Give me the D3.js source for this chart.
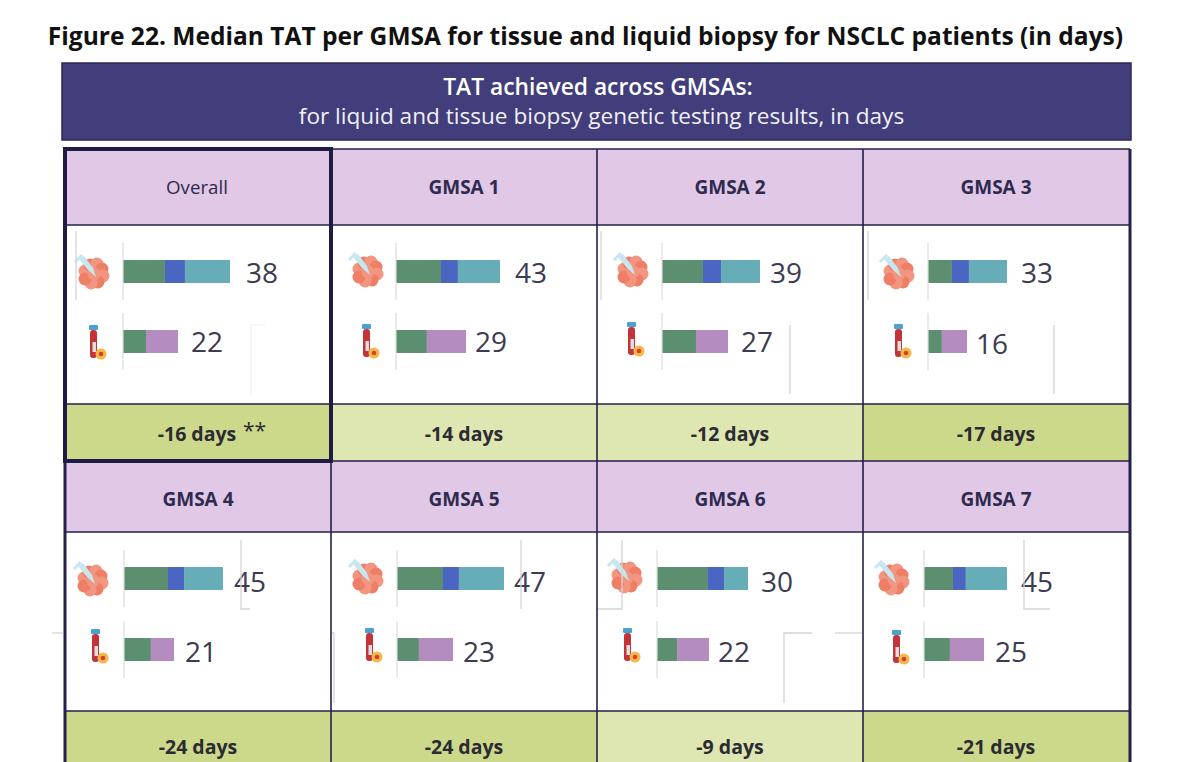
<!DOCTYPE html>
<html lang="en">
<head>
<meta charset="utf-8">
<title>Figure 22</title>
<style>
    body { margin: 0; background: #fff; }
    svg { display: block; }
    text { font-family: "Open Sans", "Noto Sans", sans-serif; }
</style>
<script src="https://cdnjs.cloudflare.com/ajax/libs/d3/7.8.5/d3.min.js"></script>
</head>
<body>
<svg id="chart" width="1200" height="762"></svg>
<script>
// data, in days
const panels = ["Overall", "GMSA 1", "GMSA 2", "GMSA 3", "GMSA 4", "GMSA 5", "GMSA 6", "GMSA 7"];
const tissueTotals = [38, 43, 39, 33, 45, 47, 30, 45];
const liquidTotals = [22, 29, 27, 16, 21, 23, 22, 25];
const tissueFirst = [14.9, 18.6, 16.3, 10.0, 20.0, 20.2, 16.8, 15.7];
const tissueSecond = [7.1, 7.0, 7.2, 7.1, 7.3, 7.0, 5.3, 7.0];
const tissueThird = [16.0, 17.4, 15.5, 15.9, 17.7, 19.8, 7.9, 22.3];
const liquidFirst = [9.2, 12.8, 13.9, 5.7, 11.3, 9.0, 8.5, 10.8];
const liquidSecond = [12.8, 16.2, 13.1, 10.3, 9.7, 14.0, 13.5, 14.2];
const diffLabels = ["-16 days", "-14 days", "-12 days", "-17 days", "-24 days", "-24 days", "-9 days", "-21 days"];
const diffStrong = [true, false, false, true, true, true, false, true];

// layout, per panel
const barX = [123, 396, 662, 928, 124, 397, 657, 924];
const tissueSpan = [107, 104, 98, 79, 99, 107, 91, 83];
const liquidSpan = [55, 70, 66, 39, 50, 56, 52, 60];
const tissueLabelX = [262, 531, 786, 1037, 250, 530, 777, 1037];
const liquidLabelX = [207, 491, 757, 992, 201, 479, 734, 1011];
const tissueIcon = [[93, 273], [367, 271], [632, 271], [898, 273], [92, 580], [367, 578], [626, 577], [893, 579]];
const liquidIcon = [[96, 343], [369, 342], [634, 340], [901, 342], [98, 647], [372, 646], [630, 646], [899, 648]];

const colX = [65, 331, 597, 863, 1129];
const rowTop = [149, 461];
const headH = [76, 71];
const headOffset = [7, 9];
const bodyH = [179, 179];
const footH = [57, 70];
const tissueBarY = [260, 567];
const liquidBarY = [330, 638];
const labelShift = [0, 2];
const barH = 23;

const stageColors = { first: "#5c8f70", second: "#4b66c2", third: "#66adb8", liquid: "#b48cbf" };
const ink = "#23204a";

// leftover faint frames visible in the source picture
const strayLines = [
    [[76, 231], [76, 300]],
    [[601, 231], [601, 300]], [[790, 394], [790, 325]],
    [[868, 231], [868, 300]], [[1054, 325], [1054, 394]],
    [[241, 540], [241, 609], [250, 609]], [[52, 633], [63, 633]], [[332, 633], [334, 633], [334, 703]],
    [[521, 540], [521, 609]], [[597, 609], [622, 609], [622, 540]],
    [[784, 703], [784, 633], [812, 633]], [[835, 633], [862, 633]],
    [[1024, 540], [1024, 609], [1050, 609]]
];
const faintLines = [[[251, 395], [251, 325], [265, 325]]];

const svg = d3.select("#chart");

// title and banner
svg.append("text").attr("x", 585.5).attr("y", 45).attr("text-anchor", "middle")
    .attr("font-size", 24.55).attr("font-weight", 700).attr("fill", "#111")
    .text("Figure 22. Median TAT per GMSA for tissue and liquid biopsy for NSCLC patients (in days)");
svg.append("rect").attr("x", 62).attr("y", 63).attr("width", 1069).attr("height", 77)
    .attr("fill", "#423d7b").attr("stroke", "#2b2758").attr("stroke-width", 1.5);
svg.append("text").attr("x", 598).attr("y", 95).attr("text-anchor", "middle")
    .attr("font-size", 22.8).attr("font-weight", 600).attr("fill", "#fff")
    .text("TAT achieved across GMSAs:");
svg.append("text").attr("x", 601.5).attr("y", 124).attr("text-anchor", "middle")
    .attr("font-size", 22.6).attr("fill", "#f1f0f7")
    .text("for liquid and tissue biopsy genetic testing results, in days");

const cell = panels.map((name, i) => {
    const r = i < 4 ? 0 : 1, c = i % 4;
    return { name, i, r, x: colX[c], w: colX[c + 1] - colX[c] };
});

const groups = svg.selectAll("g.panel").data(cell).join("g").attr("class", "panel");

groups.append("rect").attr("x", d => d.x).attr("y", d => rowTop[d.r])
    .attr("width", d => d.w).attr("height", d => headH[d.r]).attr("fill", "#e0c8e6");
groups.append("rect").attr("x", d => d.x).attr("y", d => rowTop[d.r] + headH[d.r] + bodyH[d.r])
    .attr("width", d => d.w).attr("height", d => footH[d.r])
    .attr("fill", d => diffStrong[d.i] ? "#cdd98a" : "#dee7b2");

groups.append("text").attr("x", d => d.x + d.w / 2 - (d.i === 0 ? 1 : 0))
    .attr("y", d => rowTop[d.r] + headH[d.r] / 2 + headOffset[d.r])
    .attr("text-anchor", "middle").attr("font-size", d => d.i === 0 ? 18.7 : 19)
    .attr("font-weight", d => d.i === 0 ? 400 : 700).attr("fill", "#2f2a4f")
    .text(d => d.name);
groups.append("text").attr("x", d => d.x + d.w / 2 + (d.i === 0 ? -1 : 0))
    .attr("y", d => rowTop[d.r] + headH[d.r] + bodyH[d.r] + footH[d.r] / 2 + 8)
    .attr("text-anchor", "middle").attr("font-size", 19.5).attr("font-weight", 700).attr("fill", "#2b2b33")
    .text(d => diffLabels[d.i]);
svg.append("text").attr("x", 243).attr("y", 438).attr("font-size", 21).attr("font-weight", 400)
    .attr("fill", "#2b2b33").text("**");

// bars: every panel and row has its own scale, as in the source
function stacked(sel, values, total, span, barY, colors) {
    const d = sel.datum();
    const x = d3.scaleLinear().domain([0, total[d.i]]).range([barX[d.i], barX[d.i] + span[d.i]]);
    const y = barY[d.r];
    let acc = 0;
    const segs = values.map(v => { const s = { a: acc, b: acc + v[d.i] }; acc = s.b; return s; });
    sel.append("g").selectAll("rect").data(segs).join("rect")
        .attr("x", s => x(s.a)).attr("y", y)
        .attr("width", s => x(s.b) - x(s.a)).attr("height", barH)
        .attr("fill", (s, k) => colors[k]);
    sel.append("line").attr("x1", barX[d.i]).attr("x2", barX[d.i])
        .attr("y1", y - 17).attr("y2", y + 40).attr("stroke", "#dcdcdc").attr("stroke-width", 1.2);
}

groups.each(function(d) {
    const g = d3.select(this);
    stacked(g, [tissueFirst, tissueSecond, tissueThird], tissueTotals, tissueSpan, tissueBarY,
        [stageColors.first, stageColors.second, stageColors.third]);
    stacked(g, [liquidFirst, liquidSecond], liquidTotals, liquidSpan, liquidBarY,
        [stageColors.first, stageColors.liquid]);
    g.append("text").attr("x", tissueLabelX[d.i]).attr("y", tissueBarY[d.r] + 23 + labelShift[d.r])
        .attr("text-anchor", "middle").attr("font-size", 28).attr("fill", "#3c3b52")
        .text(tissueTotals[d.i]);
    g.append("text").attr("x", liquidLabelX[d.i]).attr("y", liquidBarY[d.r] + 22 + labelShift[d.r] + (d.i === 3 ? 2 : 0))
        .attr("text-anchor", "middle").attr("font-size", 28).attr("fill", "#3c3b52")
        .text(liquidTotals[d.i]);
    drawTissue(g, tissueIcon[d.i]);
    drawTube(g, liquidIcon[d.i]);
});

function drawTissue(g, p) {
    const ic = g.append("g").attr("transform", `translate(${p[0]},${p[1]})`);
    const lobes = [[-8, -2], [-3, -8], [4, -9], [9, -4], [10, 3], [5, 9], [-2, 10], [-8, 6], [1, 1]];
    ic.selectAll("circle").data(lobes).join("circle")
        .attr("cx", l => l[0]).attr("cy", l => l[1]).attr("r", 6.5)
        .attr("fill", (l, k) => k % 2 ? "#ee7f66" : "#f29682");
    // syringe
    ic.append("path").attr("d", "M-14,-14 L-9,-17 L0,-5 L3,4 L-5,-3 Z").attr("fill", "#c6e6f0");
    ic.append("line").attr("x1", -18).attr("y1", -11).attr("x2", -11).attr("y2", -18)
        .attr("stroke", "#c6e6f0").attr("stroke-width", 3);
}

function drawTube(g, p) {
    const ic = g.append("g").attr("transform", `translate(${p[0]},${p[1]})`);
    ic.append("rect").attr("x", -6).attr("y", -13).attr("width", 7).attr("height", 28).attr("rx", 3).attr("fill", "#c4333a");
    ic.append("rect").attr("x", -3.5).attr("y", -1).attr("width", 3.5).attr("height", 10).attr("fill", "#e3dede");
    ic.append("rect").attr("x", -7).attr("y", -18).attr("width", 9).attr("height", 5).attr("rx", 1).attr("fill", "#4aa3cf");
    ic.append("circle").attr("cx", 5).attr("cy", 11).attr("r", 5.5).attr("fill", "#f5b64a");
    ic.append("circle").attr("cx", 5).attr("cy", 11).attr("r", 2.3).attr("fill", "#d8402e");
}

// stray frames
svg.append("g").selectAll("path").data(strayLines).join("path")
    .attr("d", d3.line()).attr("fill", "none").attr("stroke", "#d4d4d4").attr("stroke-width", 1.3);
svg.append("g").selectAll("path").data(faintLines).join("path")
    .attr("d", d3.line()).attr("fill", "none").attr("stroke", "#efefef").attr("stroke-width", 1.2);

// grid rules
const grid = svg.append("g").attr("stroke", ink).attr("stroke-width", 1.6);
grid.selectAll("line.v").data(colX.slice(1, 4)).join("line").attr("class", "v")
    .attr("x1", d => d).attr("x2", d => d).attr("y1", 149).attr("y2", 762);
const hRules = [149, 225, 404, 461, 532, 711];
grid.selectAll("line.h").data(hRules).join("line").attr("class", "h")
    .attr("x1", 65).attr("x2", 1130).attr("y1", d => d).attr("y2", d => d);
grid.append("line").attr("x1", 65).attr("x2", 65).attr("y1", 461).attr("y2", 762).attr("stroke-width", 3);
grid.append("line").attr("x1", 1130).attr("x2", 1130).attr("y1", 149).attr("y2", 762).attr("stroke-width", 3);

// heavy frame round the overall panel
svg.append("rect").attr("x", 65).attr("y", 149).attr("width", 266).attr("height", 312)
    .attr("fill", "none").attr("stroke", "#1f1b45").attr("stroke-width", 4);
</script>
</body>
</html>
